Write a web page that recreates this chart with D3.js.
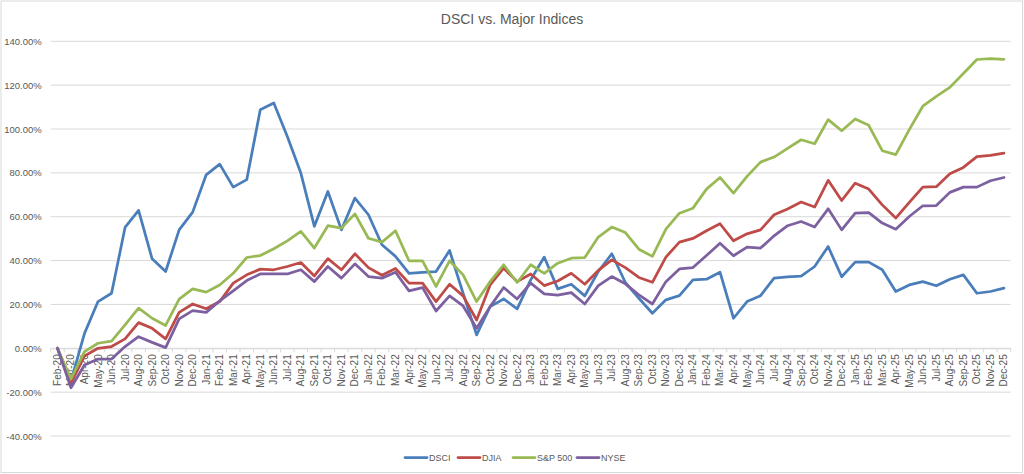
<!DOCTYPE html>
<html>
<head>
<meta charset="utf-8">
<script src="https://cdn.jsdelivr.net/npm/d3@7"></script>
<style>
  html, body { margin: 0; padding: 0; background: #ffffff; }
  svg { display: block; font-family: "Liberation Sans", Arial, sans-serif; }
</style>
</head>
<body>
<svg id="chart" width="1024" height="474"></svg>
<script>
const months = ["Feb-20","Mar-20","Apr-20","May-20","Jun-20","Jul-20","Aug-20","Sep-20","Oct-20","Nov-20","Dec-20",
  "Jan-21","Feb-21","Mar-21","Apr-21","May-21","Jun-21","Jul-21","Aug-21","Sep-21","Oct-21","Nov-21","Dec-21",
  "Jan-22","Feb-22","Mar-22","Apr-22","May-22","Jun-22","Jul-22","Aug-22","Sep-22","Oct-22","Nov-22","Dec-22",
  "Jan-23","Feb-23","Mar-23","Apr-23","May-23","Jun-23","Jul-23","Aug-23","Sep-23","Oct-23","Nov-23","Dec-23",
  "Jan-24","Feb-24","Mar-24","Apr-24","May-24","Jun-24","Jul-24","Aug-24","Sep-24","Oct-24","Nov-24","Dec-24",
  "Jan-25","Feb-25","Mar-25","Apr-25","May-25","Jun-25","Jul-25","Aug-25","Sep-25","Oct-25","Nov-25","Dec-25"];

const dsci = [0,-15,6.8,21.3,25.1,55.1,62.9,40.8,35.0,54.0,62.1,79.1,84.0,73.5,76.9,108.8,111.9,96.6,79.9,55.6,71.5,54.0,68.5,
  60.9,47.2,41.9,34.2,34.6,35.0,44.6,25.1,6.1,19.0,22.5,18.0,31.2,41.6,27.1,29.2,23.9,35.0,43.1,30.0,22.8,16.0,22.1,24.0,
  31.2,31.5,34.7,13.7,21.3,24.0,32.0,32.6,32.9,37.3,46.4,32.6,39.3,39.3,35.8,25.9,28.9,30.4,28.5,31.5,33.5,25.1,25.9,27.4];

const djia = [0,-16,-3.5,0,0.8,4.3,11.7,9.1,4.3,16.4,20.2,18.0,21.3,29.7,33.5,36.1,35.8,37.3,39.1,33.0,40.9,35.8,43.1,
  36.8,33.3,36.4,29.7,29.7,21.3,29.2,23.9,12.9,28.9,36.5,30.4,33.9,28.6,30.7,34.2,29.2,35.5,40.3,36.8,32.3,30.1,41.6,48.4,
  50.1,53.6,56.8,49.0,52.2,54.0,60.9,63.5,66.7,64.4,76.6,67.4,75.3,72.6,65.4,59.4,66.5,73.5,73.7,79.6,82.5,87.4,88.0,89.0];

const sp500 = [0,-14,-1.5,2.3,3.3,10.7,18.3,13.7,10.4,22.4,27.1,25.6,28.9,34.2,41.4,42.3,45.4,49.0,53.3,45.7,55.9,54.8,61.3,
  50.2,48.4,53.6,39.9,39.9,28.2,39.9,33.5,21.3,30.4,38.1,30.0,38.1,34.2,38.8,41.1,41.4,50.7,55.3,52.8,45.2,41.9,54.3,61.6,
  63.9,72.6,77.9,70.8,78.4,84.9,87.2,91.2,95.1,93.3,104.3,99.2,104.6,101.7,90.1,88.3,99.7,110.4,114.9,119.0,125.3,131.7,132.1,131.8];

const nyse = [0,-18,-7.6,-4.9,-4.9,0.8,5.3,2.7,0.3,13.4,17.2,16.4,21.6,26.2,30.9,33.9,33.9,33.9,35.8,30.4,37.3,32.0,38.5,
  32.7,32.0,34.7,26.2,27.7,17.0,23.9,19.3,9.1,19.0,27.7,22.5,29.7,24.8,24.2,25.4,20.2,28.6,32.7,29.4,24.4,20.2,30.4,36.2,
  36.8,42.3,47.9,42.2,46.1,45.7,51.3,55.9,57.8,55.3,63.6,54.0,61.6,61.9,57.1,54.3,60.1,65.0,65.1,71.1,73.5,73.5,76.4,77.9];

const yTicks = [-40,-20,0,20,40,60,80,100,120,140];
const seriesNames = ["DSCI","DJIA","S&P 500","NYSE"];
const seriesColors = ["#4A7EBB","#BE4B48","#98B954","#7D60A0"];
const title = "DSCI vs. Major Indices";

const series = [dsci, djia, sp500, nyse];

const svg = d3.select("#chart");
const W = 1024, H = 474;
const plot = {left: 50.7, right: 1010.7, top: 41.3, bottom: 436};

// chart border
svg.append("rect").attr("x",1).attr("y",1).attr("width",W-2.5).attr("height",H-2.5)
  .attr("fill","#fff").attr("stroke","#d9d9d9").attr("stroke-width",1);

const x = d3.scaleBand().domain(months).range([plot.left, plot.right]).padding(0);
const y = d3.scaleLinear().domain([-40,140]).range([plot.bottom, plot.top]);
const cx = d => x(d) + x.bandwidth()/2;

// gridlines
svg.append("g").selectAll("line").data(yTicks).join("line")
  .attr("x1", plot.left).attr("x2", plot.right)
  .attr("y1", d => y(d)).attr("y2", d => y(d))
  .attr("stroke", "#d9d9d9").attr("stroke-width", 1);

// y axis labels
const yAxis = d3.axisLeft(y).tickValues(yTicks).tickSize(0).tickPadding(9)
  .tickFormat(d => d.toFixed(2) + "%");
const gy = svg.append("g").attr("transform", `translate(${plot.left},0)`).call(yAxis);
gy.select(".domain").remove();
gy.selectAll("text").attr("fill","#595959").style("font-size","9.5px")
  .style("font-family","'Liberation Sans', Arial, sans-serif");

// x axis at zero
const y0 = y(0);
const xAxis = d3.axisBottom(x).tickSize(0);
const gx = svg.append("g").attr("transform", `translate(0,${y0})`).call(xAxis);
gx.select(".domain").attr("stroke","#d9d9d9");
gx.selectAll("text")
  .attr("transform","rotate(-90)")
  .attr("x",-6).attr("y",0).attr("dy","0.35em")
  .attr("text-anchor","end")
  .attr("fill","#595959").style("font-size","10px")
  .style("font-family","'Liberation Sans', Arial, sans-serif");
// tick marks at category boundaries
const bounds = months.map(m => x(m)).concat([plot.right]);
svg.append("g").selectAll("line").data(bounds).join("line")
  .attr("x1", d => d).attr("x2", d => d)
  .attr("y1", y0).attr("y2", y0 + 4)
  .attr("stroke","#d9d9d9").attr("stroke-width",1);

// lines
const line = d3.line().x((d,i) => cx(months[i])).y(d => y(d));
svg.append("g").selectAll("path").data(series).join("path")
  .attr("d", d => line(d))
  .attr("fill","none")
  .attr("stroke", (d,i) => seriesColors[i])
  .attr("stroke-width", 2.75)
  .attr("stroke-linejoin","round")
  .attr("stroke-linecap","round");

// title
svg.append("text").attr("x", 512).attr("y", 24).attr("text-anchor","middle")
  .attr("fill","#595959").style("font-size","14px").text(title);

// legend
const legendX = [405, 458, 513, 577];
const lg = svg.append("g");
seriesNames.forEach((n,i) => {
  lg.append("line").attr("x1", legendX[i]).attr("x2", legendX[i] + 22)
    .attr("y1", 457.5).attr("y2", 457.5)
    .attr("stroke", seriesColors[i]).attr("stroke-width", 2.75).attr("stroke-linecap","round");
  lg.append("text").attr("x", legendX[i] + 24).attr("y", 457.5).attr("dy","0.35em")
    .attr("fill","#595959").style("font-size","9px").text(n);
});
</script>
</body>
</html>
